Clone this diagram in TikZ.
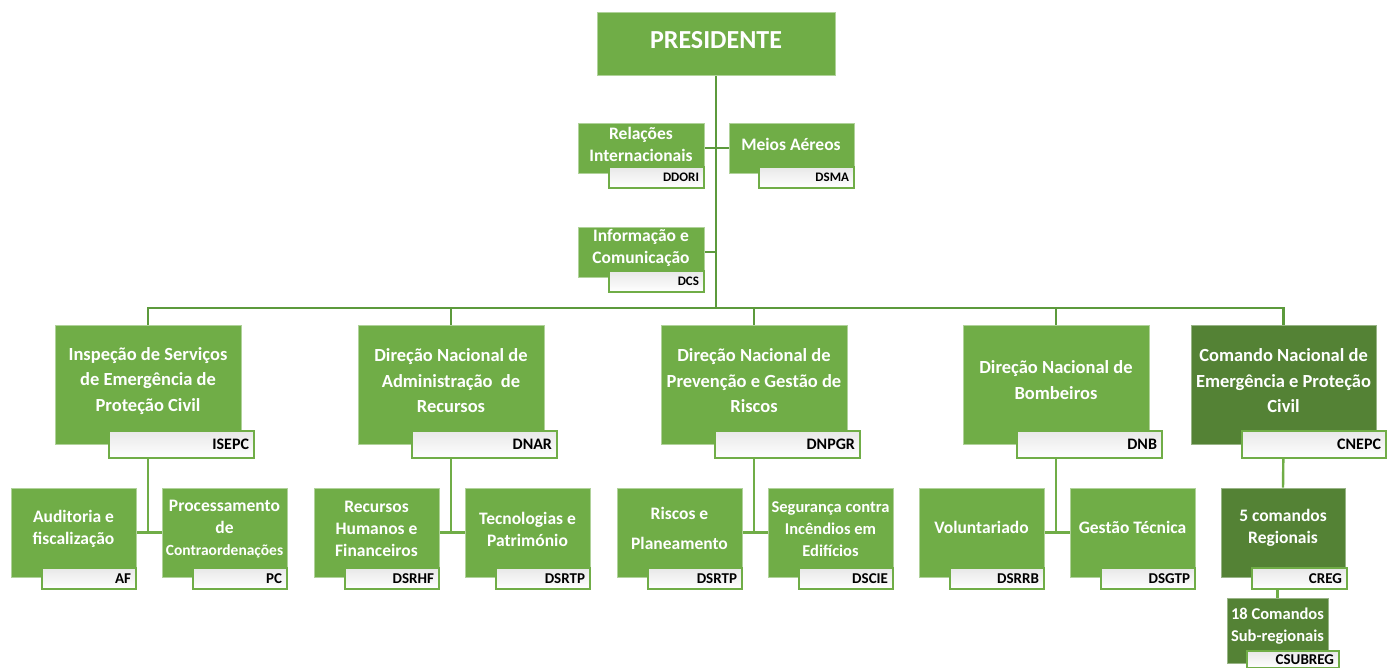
\documentclass[tikz,border=0pt]{standalone}
\usepackage{fontspec}
\setmainfont{Carlito}
\usetikzlibrary{backgrounds}
\definecolor{gmain}{HTML}{70AD47}
\definecolor{gdark}{HTML}{548235}
\definecolor{gline}{HTML}{5C9A3C}

% green unit box given by its corners
\newcommand\gbox[6][box]{%
  \node[#1, minimum width={(#5-#3)*1pt}, minimum height={(#6-#4)*1pt}]
    (#2) at ({(#3+#5)/2},{(#4+#6)/2}) {};}
% white code tag given by its corners, text set flush right
\newcommand\codetag[7]{%
  \pgfmathsetmacro\tagw{#4-#2-10}%
  \node[codetagbox, minimum height={(#5-#3)*1pt}, text width=\tagw pt,
        font=\bfseries\fontsize{#6}{#6}\selectfont]
    (#1) at ({(#2+#4)/2},{(#3+#5)/2+1}) {#7};}

\begin{document}
\begin{tikzpicture}[x=1pt,y=-1pt,
  box/.style={draw=gmain!55!white, line width=0.6pt, fill=gmain, inner sep=0pt},
  darkbox/.style={box, fill=gdark, draw=gdark!60!white},
  codetagbox/.style={draw=gmain, line width=1.8pt, top color=black!9, bottom color=white,
    inner xsep=5pt, inner ysep=0pt, align=right},
  wtext/.style={text=white, align=center, inner sep=0pt},
  ttop/.style={wtext, font=\bfseries\fontsize{26}{30}\selectfont},
  tone/.style={wtext, font=\bfseries\fontsize{18.5}{25.5}\selectfont},
  ttwo/.style={wtext, font=\bfseries\fontsize{17.5}{22}\selectfont},
  tsmall/.style={wtext, font=\bfseries\fontsize{16.5}{22}\selectfont},
  trunk/.style={draw=gline, line width=2.3pt},
  link/.style={draw=gmain, line width=2.4pt},
]
\useasboundingbox (0,0) rectangle (1387,668);

% ---------------- president and staff offices
\gbox{pres}{597}{12}{835}{75}
\node[ttop] (pres-t) at (716,40) {PRESIDENTE};

\gbox{rel}{578}{123}{704}{173}
\node[ttwo] (rel-t) at (641,144) {Relações\\Internacionais};
\codetag{ddori}{609}{166}{704}{187}{13}{DDORI}

\gbox{meios}{729}{123}{854}{173}
\node[ttwo] (meios-t) at (791,144) {Meios Aéreos};
\codetag{dsma}{759}{166}{854}{187}{13}{DSMA}

\gbox{info}{578}{227}{704}{277}
\node[ttwo] (info-t) at (641,248) {Informação e\\Comunicação};
\codetag{dcs}{609}{270}{704}{291}{13}{DCS}

% ---------------- first level
\gbox{isepc}{55}{325}{241}{444}
\node[tone] (isepc-t) at (148,381) {Inspeção de Serviços\\de Emergência de\\Proteção Civil};
\codetag{isepc-c}{109}{430}{254}{457}{16}{ISEPC}

\gbox{dnar}{358}{325}{544}{444}
\node[tone] (dnar-t) at (451,381) {Direção Nacional de\\Administração~ de\\Recursos};
\codetag{dnar-c}{412}{430}{557}{457}{16}{DNAR}

\gbox{dnpgr}{661}{325}{847}{444}
\node[tone] (dnpgr-t) at (754,381) {Direção Nacional de\\Prevenção e Gestão de\\Riscos};
\codetag{dnpgr-c}{715}{430}{860}{457}{16}{DNPGR}

\gbox{dnb}{963}{325}{1149}{444}
\node[tone] (dnb-t) at (1056,380) {Direção Nacional de\\Bombeiros};
\codetag{dnb-c}{1017}{430}{1162}{457}{16}{DNB}

\gbox[darkbox]{cnepc}{1191}{325}{1376}{444}
\node[tone] (cnepc-t) at (1283.5,381) {Comando Nacional de\\Emergência e Proteção\\Civil};
\codetag{cnepc-c}{1242}{430}{1386}{457}{16}{CNEPC}

% ---------------- second level
\gbox{af}{11}{488}{136}{577}
\node[ttwo] (af-t) at (73.5,529) {Auditoria e\\fiscalização};
\codetag{af-c}{42}{567}{136}{588}{15}{AF}

\gbox{pc}{162}{488}{287}{577}
\node[ttwo] (pc-t) at (224.5,529) {Processamento\\de\\{\fontsize{15.5}{22}\selectfont Contraordenações}};
\codetag{pc-c}{193}{567}{287}{588}{15}{PC}

\gbox{rh}{314}{488}{439}{577}
\node[ttwo] (rh-t) at (376.5,529) {Recursos\\Humanos e\\Financeiros};
\codetag{rh-c}{345}{567}{439}{588}{15}{DSRHF}

\gbox{tp}{465}{488}{590}{577}
\node[ttwo] (tp-t) at (527.5,529) {Tecnologias e\\Património};
\codetag{tp-c}{496}{567}{590}{588}{15}{DSRTP}

\gbox{rp}{617}{488}{742}{577}
\node[ttwo] (rp-t) at (679.5,528) {Riscos e\\[8pt]Planeamento};
\codetag{rp-c}{648}{567}{742}{588}{15}{DSRTP}

\gbox{sci}{768}{488}{893}{577}
\node[tsmall] (sci-t) at (830.5,529) {Segurança contra\\Incêndios em\\Edifícios};
\codetag{sci-c}{799}{567}{893}{588}{15}{DSCIE}

\gbox{vol}{919}{488}{1044}{577}
\node[ttwo] (vol-t) at (981.5,527) {Voluntariado};
\codetag{vol-c}{950}{567}{1044}{588}{15}{DSRRB}

\gbox{gt}{1070}{488}{1195}{577}
\node[ttwo] (gt-t) at (1132.5,527) {Gestão Técnica};
\codetag{gt-c}{1101}{567}{1195}{588}{15}{DSGTP}

\gbox[darkbox]{reg}{1221}{488}{1345}{577}
\node[ttwo] (reg-t) at (1283,528) {5 comandos\\Regionais};
\codetag{reg-c}{1252}{567}{1347}{588}{15}{CREG}

\gbox[darkbox]{sub}{1227}{598}{1328}{663}
\node[tsmall] (sub-t) at (1277.5,626) {18 Comandos\\Sub-regionais};
\codetag{sub-c}{1247}{650}{1339}{667}{15}{CSUBREG}

% ---------------- connectors, drawn behind the boxes
\begin{scope}[on background layer]
  \coordinate (busL) at (148,308);
  \draw[trunk] (pres.south) -- (pres.south |- busL);
  \draw[trunk] (isepc.north) -- (isepc.north |- busL) -- (cnepc.north |- busL) -- (cnepc.north);
  \draw[trunk] (dnar.north) -- (dnar.north |- busL);
  \draw[trunk] (dnpgr.north) -- (dnpgr.north |- busL);
  \draw[trunk] (dnb.north) -- (dnb.north |- busL);
  \draw[trunk] (rel.east) -- (meios.west);
  \draw[trunk] (info.east) -- (info.east -| pres.south);

  \draw[link] (isepc.south) -- (isepc.south |- af.east);
  \draw[link] (af.east) -- (pc.west);
  \draw[link] (dnar.south) -- (dnar.south |- rh.east);
  \draw[link] (rh.east) -- (tp.west);
  \draw[link] (dnpgr.south) -- (dnpgr.south |- rp.east);
  \draw[link] (rp.east) -- (sci.west);
  \draw[link] (dnb.south) -- (dnb.south |- vol.east);
  \draw[link] (vol.east) -- (gt.west);
  \draw[link] (cnepc.south) -- (reg.north);
  \draw[link] (sub.north |- reg.south) -- (sub.north);
\end{scope}
\end{tikzpicture}
\end{document}
